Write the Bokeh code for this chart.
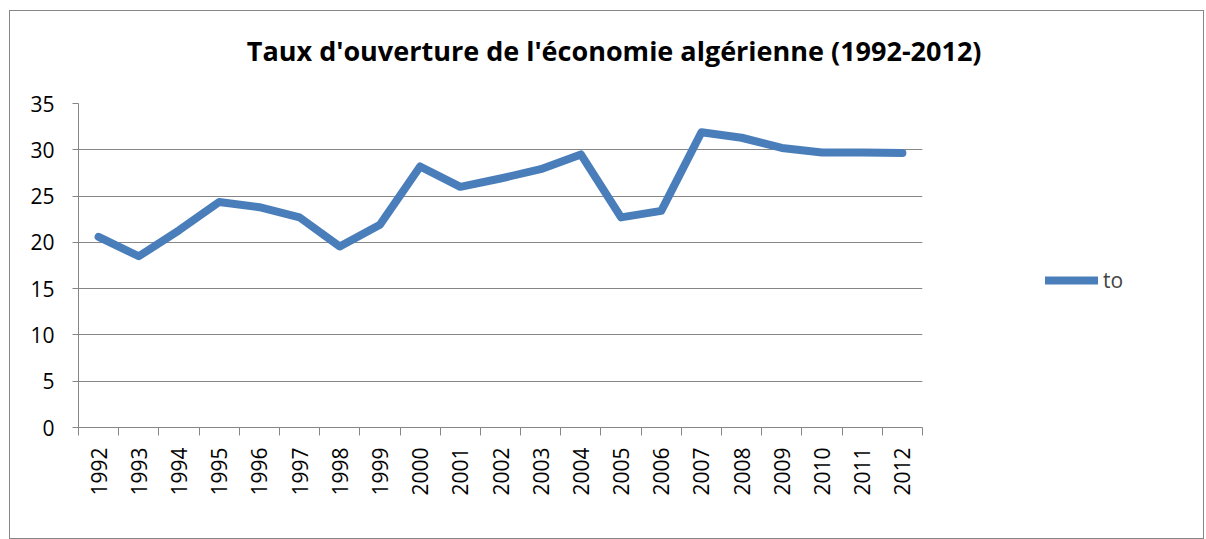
from bokeh.plotting import figure
from bokeh.models import Range1d, FixedTicker, Legend, LegendItem, Label
from bokeh.layouts import column, row
from bokeh.embed import file_html
from bokeh.resources import INLINE
import math

years = [1992, 1993, 1994, 1995, 1996, 1997, 1998, 1999, 2000, 2001, 2002,
         2003, 2004, 2005, 2006, 2007, 2008, 2009, 2010, 2011, 2012]
to_values = [20.6, 18.5, 21.3, 24.35, 23.8, 22.7, 19.55, 21.9, 28.2, 26.0, 26.9,
             27.9, 29.5, 22.7, 23.4, 31.9, 31.3, 30.2, 29.7, 29.7, 29.65]
y_ticks = [0, 5, 10, 15, 20, 25, 30, 35]
title_text = "Taux d'ouverture de l'économie algérienne (1992-2012)"
series_name = "to"

FONT = "Open Sans"
GRAY = "#868686"
BLUE = "#4A7EBB"


def blank(width, height):
    f = figure(width=width, height=height, output_backend="svg", toolbar_location=None,
               x_range=Range1d(0, 1), y_range=Range1d(0, 1),
               x_axis_location=None, y_axis_location=None, min_border=0)
    f.outline_line_color = None
    f.grid.visible = False
    f.border_fill_color = "white"
    f.background_fill_color = "white"
    return f


# title strip
pt = blank(1193, 80)
pt.add_layout(Label(x=0.506, y=0.51, text=title_text, text_align="center",
                    text_baseline="middle", text_font=FONT, text_font_size="27px",
                    text_font_style="bold", text_color="black"))

# main chart
p = figure(width=914, height=447, output_backend="svg", toolbar_location=None,
           x_range=Range1d(years[0] - 0.5, years[-1] + 0.5),
           y_range=Range1d(y_ticks[0], y_ticks[-1]),
           min_border_left=68, min_border_right=2, min_border_top=12,
           min_border_bottom=111)
p.outline_line_color = None
p.background_fill_color = "white"
p.border_fill_color = "white"

xt = FixedTicker(ticks=years, minor_ticks=[y - 0.5 for y in years] + [years[-1] + 0.5])
p.xaxis.ticker = xt
p.xaxis.major_tick_out = 0
p.xaxis.major_tick_in = 0
p.xaxis.minor_tick_out = 8
p.xaxis.minor_tick_in = 0
p.xaxis.minor_tick_line_color = GRAY
p.xaxis.axis_line_color = GRAY
p.xaxis.major_label_orientation = math.pi / 2
p.xaxis.major_label_text_font = FONT
p.xaxis.major_label_text_font_size = "21px"
p.xaxis.major_label_text_color = "black"
p.xaxis.major_label_standoff = 12
p.xgrid.grid_line_color = None

p.yaxis.ticker = FixedTicker(ticks=y_ticks)
p.yaxis.major_tick_out = 6
p.yaxis.major_tick_in = 0
p.yaxis.minor_tick_line_color = None
p.yaxis.major_tick_line_color = GRAY
p.yaxis.axis_line_color = GRAY
p.yaxis.major_label_text_font = FONT
p.yaxis.major_label_text_font_size = "21px"
p.yaxis.major_label_text_color = "black"
p.yaxis.major_label_standoff = 18
p.ygrid.grid_line_color = GRAY
p.ygrid.grid_line_width = 1

r = p.line(years, to_values, line_color=BLUE, line_width=8,
           line_join="round", line_cap="round")

# legend strip (same series, lying outside this strip's ranges, only feeds the legend)
pl = blank(279, 447)
rl = pl.line(years, to_values, line_color=BLUE, line_width=8, line_cap="round")
legend = Legend(items=[LegendItem(label=series_name, renderers=[rl])],
                location=(121, 133), padding=0, margin=0,
                glyph_width=53, glyph_height=24, label_standoff=5,
                border_line_color=None, background_fill_alpha=0,
                label_text_font=FONT, label_text_font_size="21px")
pl.add_layout(legend, "center")

layout = column(pt, row(p, pl, spacing=0), spacing=0)
layout.styles = {"border": "1px solid #868686", "margin-left": "9px", "margin-top": "10px",
                 "background-color": "white"}

open("out.html", "w").write(file_html(layout, INLINE))
